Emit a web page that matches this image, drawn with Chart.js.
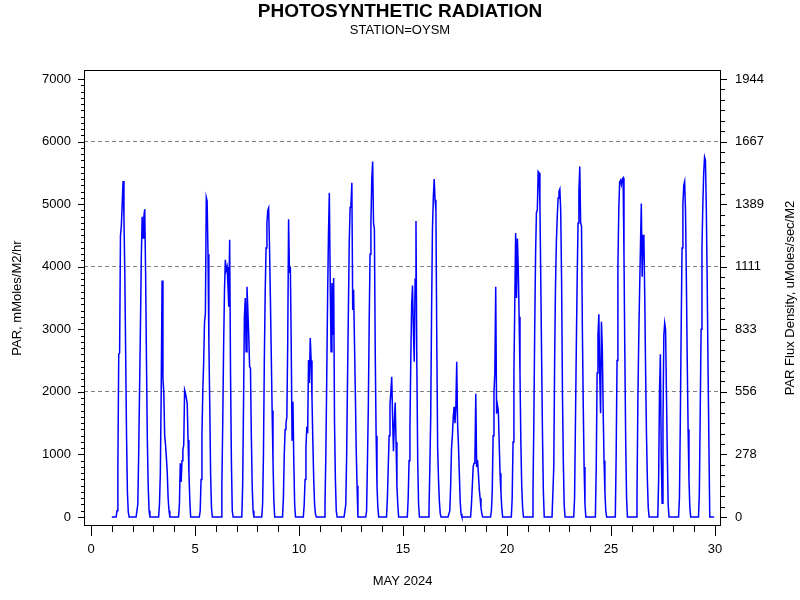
<!DOCTYPE html>
<html>
<head>
<meta charset="utf-8">
<title>Photosynthetic Radiation</title>
<style>
  html, body { margin: 0; padding: 0; background: #fff; }
  canvas { display: block; }
</style>
<script src="https://cdn.jsdelivr.net/npm/chart.js@4.4.1/dist/chart.umd.min.js"></script>
</head>
<body>
<canvas id="parChart" width="800" height="600"></canvas>
<script>
// hourly PAR readings, mMoles/M2/hr, one row per day of May 2024
const dayOfMonth = [1, 2, 3, 4, 5, 6, 7, 8, 9, 10, 11, 12, 13, 14, 15, 16, 17, 18, 19, 20, 21, 22, 23, 24, 25, 26, 27, 28, 29];
const hourOfDay = [0, 1, 2, 3, 4, 5, 6, 7, 8, 9, 10, 11, 12, 13, 14, 15, 16, 17, 18, 19, 20, 21, 22, 23];
const parByDay = [
    [0, 0, 0, 0, 0, 0, 100, 800, 2600, 2620, 4500, 4650, 5000, 5370, 4800, 3900, 2600, 1300, 400, 80, 0, 0, 0, 0],
    [0, 0, 0, 0, 0, 0, 200, 1000, 2000, 3000, 4100, 4800, 4460, 4800, 4920, 3900, 2500, 1230, 500, 100, 0, 0, 0, 0],
    [0, 0, 0, 0, 0, 0, 0, 200, 700, 2000, 3780, 2200, 2000, 1300, 1150, 950, 700, 300, 100, 0, 0, 0, 0, 0],
    [0, 0, 0, 0, 0, 0, 200, 860, 560, 900, 1070, 1150, 2030, 1980, 1900, 1820, 1230, 700, 270, 0, 0, 0, 0, 0],
    [0, 0, 0, 0, 0, 0, 100, 600, 1300, 2000, 2480, 3120, 3250, 5110, 5050, 4200, 2800, 1800, 700, 150, 0, 0, 0, 0],
    [0, 0, 0, 0, 0, 0, 0, 500, 1500, 2700, 3600, 4110, 3950, 4000, 3700, 3360, 4430, 2300, 900, 100, 0, 0, 0, 0],
    [0, 0, 0, 0, 0, 0, 0, 500, 1800, 3200, 3500, 2640, 3680, 3300, 2900, 2400, 2380, 1300, 500, 100, 0, 0, 0, 0],
    [0, 0, 0, 0, 0, 0, 200, 1000, 2500, 3600, 4300, 4700, 4900, 4940, 4300, 3500, 2600, 1700, 900, 250, 0, 0, 0, 0],
    [0, 0, 0, 0, 0, 0, 300, 1000, 1400, 1500, 1600, 2800, 4760, 3900, 4000, 2800, 1230, 1840, 900, 200, 0, 0, 0, 0],
    [0, 0, 0, 0, 0, 0, 200, 600, 1100, 1440, 1340, 2510, 2140, 2860, 2500, 1900, 1200, 600, 200, 50, 0, 0, 0, 0],
    [0, 0, 0, 0, 0, 0, 200, 1000, 2200, 3500, 4500, 5180, 3800, 2640, 3740, 2910, 3820, 1500, 600, 100, 0, 0, 0, 0],
    [0, 0, 0, 0, 0, 0, 200, 1000, 2200, 3300, 4400, 4950, 5000, 5340, 3310, 3630, 2800, 2000, 1100, 500, 0, 0, 0, 0],
    [0, 0, 0, 0, 0, 0, 100, 900, 1760, 3100, 4200, 4700, 5400, 5680, 4700, 4600, 2600, 1300, 500, 150, 0, 0, 0, 0],
    [0, 0, 0, 0, 0, 0, 300, 800, 1300, 1800, 2000, 2240, 1600, 1050, 1500, 1830, 1200, 500, 200, 0, 0, 0, 0, 0],
    [0, 0, 0, 0, 0, 0, 300, 900, 1400, 2500, 3400, 3700, 3000, 2480, 3800, 4730, 2400, 900, 200, 0, 0, 0, 0, 0],
    [0, 0, 0, 0, 0, 0, 100, 800, 1600, 3300, 4600, 5100, 5400, 5070, 4900, 2800, 1100, 600, 250, 50, 0, 0, 0, 0],
    [0, 0, 0, 0, 0, 0, 100, 500, 1100, 1300, 1600, 1760, 1500, 1750, 2480, 1500, 1150, 700, 250, 50, 0, 0, 0, 0],
    [0, 0, 0, 0, 0, 0, 0, 200, 500, 800, 860, 900, 1970, 800, 910, 700, 450, 300, 150, 50, 0, 0, 0, 0],
    [0, 0, 0, 0, 0, 0, 100, 400, 1300, 2000, 2300, 3680, 1650, 1790, 1700, 1200, 700, 400, 150, 0, 0, 0, 0, 0],
    [0, 0, 0, 0, 0, 0, 300, 1200, 2300, 3400, 4540, 3500, 4450, 4000, 3200, 2300, 1200, 500, 160, 0, 0, 0, 0, 0],
    [0, 0, 0, 0, 0, 0, 400, 1500, 3000, 4200, 4870, 4900, 5520, 5500, 5000, 3800, 2500, 1300, 400, 0, 0, 0, 0, 0],
    [0, 0, 0, 0, 0, 0, 800, 2500, 3700, 4400, 4800, 5100, 5200, 5240, 4900, 3800, 2000, 900, 200, 0, 0, 0, 0, 0],
    [0, 0, 0, 0, 0, 0, 300, 1500, 2700, 3800, 4700, 5200, 5600, 4700, 4650, 3000, 1800, 800, 200, 0, 0, 0, 0, 0],
    [0, 0, 0, 0, 0, 0, 0, 800, 2300, 2900, 3240, 2300, 1660, 3120, 2700, 1700, 900, 400, 100, 0, 0, 0, 0, 0],
    [0, 0, 0, 0, 0, 0, 1000, 2500, 4000, 4900, 5350, 5380, 5310, 5400, 5420, 4200, 2600, 1200, 300, 0, 0, 0, 0, 0],
    [0, 0, 0, 0, 0, 0, 300, 1800, 2800, 3600, 4300, 5010, 3840, 4510, 4430, 3500, 2300, 1300, 600, 150, 0, 0, 0, 0],
    [0, 0, 0, 0, 0, 0, 0, 600, 2000, 2600, 1000, 220, 1500, 2900, 3100, 3000, 2000, 1000, 200, 0, 0, 0, 0, 0],
    [0, 0, 0, 0, 0, 0, 0, 300, 1500, 3000, 4300, 5000, 5300, 5360, 4900, 3800, 2500, 1400, 600, 150, 0, 0, 0, 0],
    [0, 0, 0, 0, 0, 0, 400, 1700, 3000, 4300, 5000, 5500, 5750, 5700, 4950, 3800, 2400, 2400, 0, 0, 0, 0, 0, 0]
];
// last reading, midnight closing May 29
const finalDay = 30;
const finalPar = 0;

const xTicks = [0, 5, 10, 15, 20, 25, 30];
const yTicks = [0, 1000, 2000, 3000, 4000, 5000, 6000, 7000];
const fluxTickLabels = ['0', '278', '556', '833', '1111', '1389', '1667', '1944'];
const dashedAt = [2000, 4000, 6000];

const FONT = '"Liberation Sans", Arial, Helvetica, sans-serif';
Chart.defaults.font.family = FONT;
Chart.defaults.font.size = 13;
Chart.defaults.color = '#000';

const points = [];
dayOfMonth.forEach((day, i) => {
    parByDay[i].forEach((v, h) => points.push({ x: day + hourOfDay[h] / 24, y: v }));
});
points.push({ x: finalDay, y: finalPar });

// 1000 mMoles/M2/hr = 277.78 uMoles/sec/M2
const toFlux = v => v / 3.6;

// frame, minor ticks and the right-hand title
const axisMarks = {
    id: 'axisMarks',
    afterDraw(chart) {
        const { ctx, chartArea: a, scales } = chart;
        ctx.save();
        ctx.strokeStyle = '#000';
        ctx.lineWidth = 1;
        ctx.strokeRect(a.left + 0.5, a.top + 0.5, a.right - a.left - 1, a.bottom - a.top - 1);
        ctx.beginPath();
        for (let d = 0; d <= 30; d++) {
            const px = Math.round(scales.x.getPixelForValue(d)) + 0.5;
            ctx.moveTo(px, a.bottom);
            ctx.lineTo(px, a.bottom + (d % 5 === 0 ? 10 : 6));
        }
        for (let v = 0; v <= 7000; v += 100) {
            const py = Math.round(scales.y.getPixelForValue(v)) + 0.5;
            ctx.moveTo(a.left, py);
            ctx.lineTo(a.left - (v % 1000 === 0 ? 6 : 3), py);
        }
        for (let i = 0; i <= 42; i++) {
            const py = Math.round(scales.y2.getPixelForValue(toFlux(i * 1000 / 6))) + 0.5;
            ctx.moveTo(a.right, py);
            ctx.lineTo(a.right + (i % 6 === 0 ? 6 : 4), py);
        }
        ctx.stroke();

        ctx.translate(790, (a.top + a.bottom) / 2);
        ctx.rotate(-Math.PI / 2);
        ctx.font = '13px ' + FONT;
        ctx.textAlign = 'center';
        ctx.textBaseline = 'middle';
        ctx.fillStyle = '#000';
        ctx.fillText('PAR Flux Density, uMoles/sec/M2', 0, 0);
        ctx.restore();
    }
};

new Chart(document.getElementById('parChart'), {
    type: 'line',
    data: {
        datasets: [{
            data: points,
            borderColor: '#0000ff',
            borderWidth: 1.5,
            pointRadius: 0,
            tension: 0,
            fill: false
        }]
    },
    options: {
        responsive: false,
        animation: false,
        devicePixelRatio: 1,
        layout: { padding: 0 },
        plugins: {
            legend: { display: false },
            tooltip: { enabled: false },
            title: {
                display: true,
                text: 'PHOTOSYNTHETIC RADIATION',
                color: '#000',
                font: { size: 19, weight: 'bold', lineHeight: 1.2 },
                padding: { top: 0, bottom: 0 }
            },
            subtitle: {
                display: true,
                text: 'STATION=OYSM',
                color: '#000',
                font: { size: 13, lineHeight: 1.2 },
                padding: { top: 0, bottom: 31.6 }
            }
        },
        scales: {
            x: {
                type: 'linear',
                min: -0.337,
                max: 30.29,
                afterBuildTicks: s => { s.ticks = xTicks.map(v => ({ value: v })); },
                afterFit: s => { s.height = 74; },
                grid: { display: false, drawTicks: false },
                border: { display: false },
                ticks: { padding: 16, maxRotation: 0, autoSkip: false, callback: v => String(v) },
                title: { display: true, text: 'MAY 2024', padding: { top: 0, bottom: 11 } }
            },
            y: {
                position: 'left',
                min: -144,
                max: 7144,
                afterBuildTicks: s => { s.ticks = yTicks.map(v => ({ value: v })); },
                afterFit: s => { s.width = 84; },
                grid: {
                    drawTicks: false,
                    lineWidth: 1,
                    color: c => dashedAt.includes(c.tick && c.tick.value) ? '#808080' : 'rgba(0,0,0,0)'
                },
                border: { display: false, dash: [4, 3] },
                ticks: { padding: 13, callback: v => String(v) },
                title: { display: true, text: 'PAR, mMoles/M2/hr', padding: { top: 10, bottom: 0 } }
            },
            y2: {
                position: 'right',
                min: toFlux(-144),
                max: toFlux(7144),
                afterBuildTicks: s => { s.ticks = yTicks.map(v => ({ value: toFlux(v) })); },
                afterFit: s => { s.width = 79; },
                grid: { display: false, drawTicks: false },
                border: { display: false },
                ticks: { padding: 14, callback: (v, i) => fluxTickLabels[i] }
            }
        }
    },
    plugins: [axisMarks]
});
</script>
</body>
</html>
